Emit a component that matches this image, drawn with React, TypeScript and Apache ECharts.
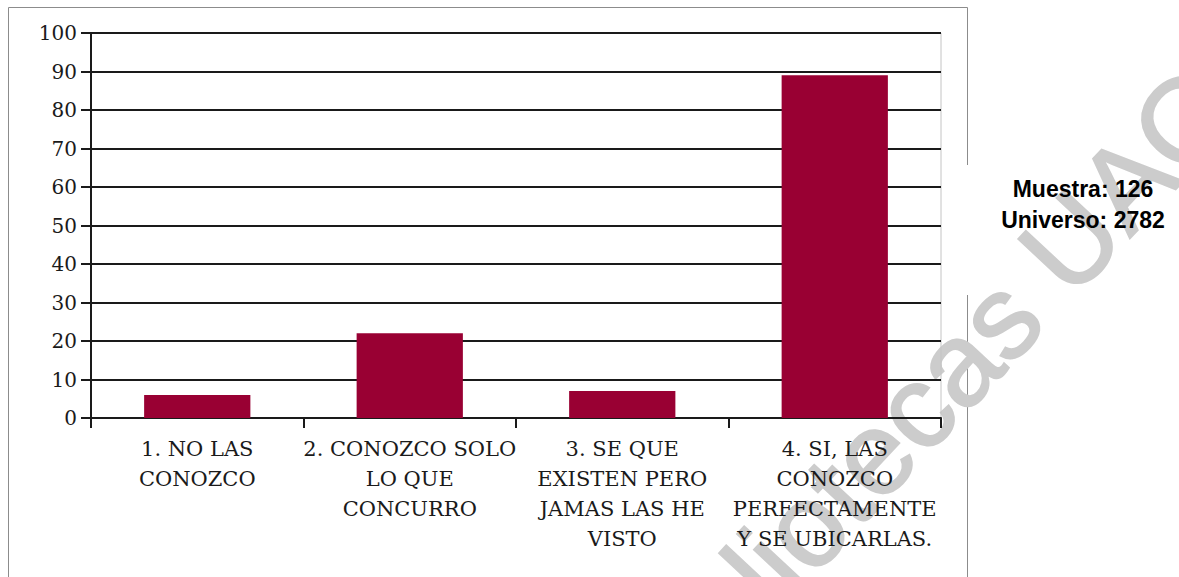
import React, { useEffect, useRef } from "react";
import * as echarts from "echarts";

const categories = [
  "1. NO LAS\nCONOZCO",
  "2. CONOZCO SOLO\nLO QUE\nCONCURRO",
  "3. SE QUE\nEXISTEN PERO\nJAMAS LAS HE\nVISTO",
  "4. SI, LAS\nCONOZCO\nPERFECTAMENTE\nY SE UBICARLAS.",
];
const values = [6, 22, 7, 89];
const noteLines = ["Muestra: 126", "Universo: 2782"];
const watermark = "Bibliotecas UAO";

export default function App() {
  const ref = useRef<HTMLDivElement>(null);
  useEffect(() => {
    if (!ref.current) return;
    const chart = echarts.init(ref.current, null, { renderer: "svg" });
    const border = "#8c8c8c";
    chart.setOption({
      animation: false,
      backgroundColor: "#ffffff",
      grid: {
        left: 91,
        right: 238,
        top: 33,
        bottom: 159,
        show: true,
        borderColor: "#c4c4c4",
        borderWidth: 1,
        backgroundColor: "transparent",
      },
      xAxis: {
        type: "category",
        data: categories,
        axisLine: { lineStyle: { color: "#1a1a1a", width: 2 } },
        axisTick: { show: true, length: 10, lineStyle: { color: "#1a1a1a", width: 2 } },
        axisLabel: {
          interval: 0,
          margin: 16,
          color: "#1a1a1a",
          fontFamily: "DejaVu Serif",
          fontSize: 21,
          lineHeight: 30,
        },
      },
      yAxis: {
        type: "value",
        min: 0,
        max: 100,
        interval: 10,
        axisLine: { show: true, lineStyle: { color: "#1a1a1a", width: 2 } },
        axisTick: { show: true, length: 10, lineStyle: { color: "#1a1a1a", width: 2 } },
        splitLine: { show: true, lineStyle: { color: "#1a1a1a", width: 2 } },
        axisLabel: {
          margin: 14,
          color: "#1a1a1a",
          fontFamily: "DejaVu Serif",
          fontSize: 20,
        },
      },
      series: [
        {
          type: "bar",
          data: values,
          barCategoryGap: "50%",
          itemStyle: { color: "#990033" },
          z: 5,
        },
      ],
      graphic: [
        {
          type: "polyline",
          z: -5,
          shape: { points: [[8.5, 600], [8.5, 7.5], [967.5, 7.5], [967.5, 165]] },
          style: { stroke: border, lineWidth: 1, fill: null },
        },
        {
          type: "line",
          z: -5,
          shape: { x1: 967.5, y1: 295, x2: 967.5, y2: 600 },
          style: { stroke: border, lineWidth: 1 },
        },
        {
          type: "text",
          z: -3,
          x: 923,
          y: 400,
          rotation: (47 * Math.PI) / 180,
          style: {
            text: watermark,
            fontSize: 118,
            fontFamily: "Liberation Sans",
            fill: "#cccccc",
            stroke: "#cccccc",
            lineWidth: 2,
            align: "center",
            verticalAlign: "middle",
            textAlign: "center",
            textVerticalAlign: "middle",
          },
        },
        ...noteLines.map((t, i) => ({
          type: "text",
          z: 10,
          x: 1083,
          y: 189 + i * 31,
          style: {
            text: t,
            fontSize: 23,
            fontWeight: "bold",
            fontFamily: "Liberation Sans",
            fill: "#000000",
            align: "center",
            verticalAlign: "middle",
            textAlign: "center",
            textVerticalAlign: "middle",
          },
        })),
      ],
    });
    return () => chart.dispose();
  }, []);
  return (
    <div
      ref={ref}
      style={{ position: "absolute", left: 0, top: 0, width: 1179, height: 577 }}
    />
  );
}
